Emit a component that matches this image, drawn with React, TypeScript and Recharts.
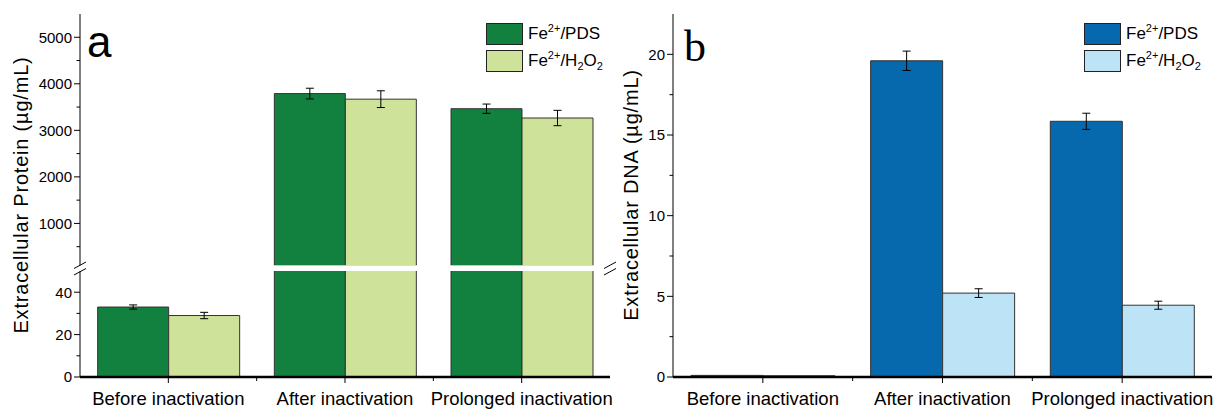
import React from 'react';
import { BarChart, Bar, XAxis, YAxis, ErrorBar, Legend } from 'recharts';

const categories = ['Before inactivation', 'After inactivation', 'Prolonged inactivation'];
const seriesNames = ['Fe2+/PDS', 'Fe2+/H2O2'];

// panel a - extracellular protein (µg/mL)
const proteinPds = [33, 3790, 3465];
const proteinPdsErr = [1, 115, 100];
const proteinH2o2 = [29, 3670, 3265];
const proteinH2o2Err = [1.5, 180, 165];

// panel b - extracellular DNA (µg/mL)
const dnaPds = [0.1, 19.6, 15.85];
const dnaPdsErr = [0, 0.6, 0.5];
const dnaH2o2 = [0.08, 5.2, 4.45];
const dnaH2o2Err = [0, 0.27, 0.25];

// broken axis of panel a
const lowDomain = [0, 50];
const highDomain = [85, 5500];
const lowTicks = [0, 10, 20, 30, 40];
const lowMajor = [0, 20, 40];
const highTicks = [500, 1000, 1500, 2000, 2500, 3000, 3500, 4000, 4500, 5000];
const highMajor = [1000, 2000, 3000, 4000, 5000];
const dnaTicks = [0, 2.5, 5, 7.5, 10, 12.5, 15, 17.5, 20];
const dnaMajor = [0, 5, 10, 15, 20];

const FONT = '"Liberation Sans", Arial, sans-serif';
const greens = ['#12803f', '#cfe29a'];
const blues = ['#0669ad', '#bde3f7'];
const BAR_STROKE = '#333';

const inRange = (v: number, d: number[]) => v >= d[0] && v <= d[1];

// rows for each segment: values outside the segment keep their bar (clipped), errors only if visible
const segmentRows = (d: number[], keepBelow: boolean) =>
  categories.map((cat, i) => ({
    cat,
    pds: keepBelow || proteinPds[i] > d[0] ? proteinPds[i] : null,
    h2o2: keepBelow || proteinH2o2[i] > d[0] ? proteinH2o2[i] : null,
    pdsErr: inRange(proteinPds[i], d) ? proteinPdsErr[i] : null,
    h2o2Err: inRange(proteinH2o2[i], d) ? proteinH2o2Err[i] : null,
  }));

const highRows = segmentRows(highDomain, false);
const lowRows = segmentRows(lowDomain, true);
const dnaRows = categories.map((cat, i) => ({
  cat,
  pds: dnaPds[i],
  h2o2: dnaH2o2[i],
  pdsErr: dnaPdsErr[i],
  h2o2Err: dnaH2o2Err[i],
}));

const formatName = (s: string) =>
  s.split(/(\d\+|\d)/).map((p, i) =>
    /\d\+/.test(p) ? (
      <sup key={i} style={{ fontSize: 11, lineHeight: 0 }}>{p}</sup>
    ) : /^\d$/.test(p) ? (
      <sub key={i} style={{ fontSize: 11, lineHeight: 0 }}>{p}</sub>
    ) : (
      p
    )
  );

const LegendBox = (props: any) => {
  const items = [...(props.payload || [])].sort(
    (a: any, b: any) => seriesNames.indexOf(a.value) - seriesNames.indexOf(b.value)
  );
  return (
    <div style={{ fontFamily: FONT, fontSize: 17, color: '#000' }}>
      {items.map((e: any) => (
        <div key={e.value} style={{ display: 'flex', alignItems: 'center', height: 27 }}>
          <span
            style={{
              width: 37,
              height: 22,
              background: e.color,
              border: '1px solid #222',
              boxSizing: 'border-box',
              display: 'inline-block',
            }}
          />
          <span style={{ marginLeft: 5, whiteSpace: 'nowrap' }}>{formatName(e.value)}</span>
        </div>
      ))}
    </div>
  );
};

const YTick = (props: any) => {
  const { x, y, payload, majors } = props;
  const major = majors.includes(payload.value);
  return (
    <g>
      <line x1={x} x2={x - (major ? 6 : 3.5)} y1={y} y2={y} stroke="#000" />
      {major && (
        <text x={x - 8} y={y} dy="0.36em" textAnchor="end" fontSize={15} fontFamily={FONT} fill="#000">
          {payload.value}
        </text>
      )}
    </g>
  );
};

const XTick = (props: any) => {
  const { x, y, payload, index, band } = props;
  return (
    <g>
      <line x1={x} x2={x} y1={y} y2={y + 6} stroke="#000" />
      {index < categories.length - 1 && (
        <line x1={x + band / 2} x2={x + band / 2} y1={y} y2={y + 4} stroke="#000" />
      )}
      <text x={x} y={y + 28} textAnchor="middle" fontSize={18.5} fontFamily={FONT} fill="#000">
        {payload.value}
      </text>
    </g>
  );
};

const frameAxes = [
  <XAxis key="top" xAxisId="top" orientation="top" dataKey="cat" height={0} tick={false} tickLine={false} axisLine={{ stroke: '#000' }} />,
  <YAxis key="right" yAxisId="r" orientation="right" width={0} tick={false} tickLine={false} axisLine={{ stroke: '#000' }} />,
];

const bars = (colors: string[]) => [
  <Bar key="pds" dataKey="pds" yAxisId="l" name={seriesNames[0]} fill={colors[0]} stroke={BAR_STROKE} strokeWidth={1} isAnimationActive={false}>
    <ErrorBar dataKey="pdsErr" width={4} stroke="#000" strokeWidth={1} direction="y" />
  </Bar>,
  <Bar key="h2o2" dataKey="h2o2" yAxisId="l" name={seriesNames[1]} fill={colors[1]} stroke={BAR_STROKE} strokeWidth={1} isAnimationActive={false}>
    <ErrorBar dataKey="h2o2Err" width={4} stroke="#000" strokeWidth={1} direction="y" />
  </Bar>,
];

const legendAt = (left: number) => (
  <Legend
    verticalAlign="middle"
    align="center"
    layout="horizontal"
    content={<LegendBox />}
    wrapperStyle={{ top: 20, left, width: 'auto', height: 'auto' }}
  />
);

const titleStyle = { fontSize: 20, letterSpacing: 0.8, fontFamily: FONT, fill: '#000' };

export default function App() {
  const bandA = (610 - 80) / 3;
  const bandB = (1212 - 673) / 3;
  return (
    <div style={{ position: 'absolute', left: 0, top: 0, width: 1214, height: 410, background: '#fff', fontFamily: FONT }}>
      {/* panel a, upper segment */}
      <div style={{ position: 'absolute', left: 0, top: 0 }}>
        <BarChart width={620} height={410} data={highRows} margin={{ top: 14, right: 10, bottom: 144, left: 0 }} barGap={0} barCategoryGap="10%">
          <XAxis dataKey="cat" hide />
          {frameAxes}
          <YAxis
            yAxisId="l"
            width={80}
            domain={highDomain}
            allowDataOverflow
            ticks={highTicks}
            interval={0}
            tickSize={0}
            tickMargin={0}
            tickLine={false}
            axisLine={{ stroke: '#000' }}
            tick={(p: any) => <YTick {...p} majors={highMajor} />}
          />
          {bars(greens)}
          {legendAt(486)}
        </BarChart>
      </div>
      {/* panel a, lower segment */}
      <div style={{ position: 'absolute', left: 0, top: 0 }}>
        <BarChart width={620} height={410} data={lowRows} margin={{ top: 271, right: 10, bottom: 0, left: 0 }} barGap={0} barCategoryGap="10%">
          <XAxis
            dataKey="cat"
            height={33}
            interval={0}
            tickSize={0}
            tickMargin={0}
            tickLine={false}
            axisLine={{ stroke: '#000', strokeWidth: 2.5 }}
            tick={(p: any) => <XTick {...p} band={bandA} />}
          />
          <YAxis yAxisId="r" orientation="right" width={0} tick={false} tickLine={false} axisLine={{ stroke: '#000' }} />
          <YAxis
            yAxisId="l"
            width={80}
            domain={lowDomain}
            allowDataOverflow
            ticks={lowTicks}
            interval={0}
            tickSize={0}
            tickMargin={0}
            tickLine={false}
            axisLine={{ stroke: '#000' }}
            tick={(p: any) => <YTick {...p} majors={lowMajor} />}
          />
          {bars(greens)}
        </BarChart>
      </div>
      {/* panel b */}
      <div style={{ position: 'absolute', left: 600, top: 0 }}>
        <BarChart width={614} height={410} data={dnaRows} margin={{ top: 14, right: 2, bottom: 0, left: 0 }} barGap={0} barCategoryGap="10%">
          <XAxis
            dataKey="cat"
            height={33}
            interval={0}
            tickSize={0}
            tickMargin={0}
            tickLine={false}
            axisLine={{ stroke: '#000', strokeWidth: 2.5 }}
            tick={(p: any) => <XTick {...p} band={bandB} />}
          />
          {frameAxes}
          <YAxis
            yAxisId="l"
            width={73}
            domain={[0, 22.5]}
            allowDataOverflow
            ticks={dnaTicks}
            interval={0}
            tickSize={0}
            tickMargin={0}
            tickLine={false}
            axisLine={{ stroke: '#000' }}
            tick={(p: any) => <YTick {...p} majors={dnaMajor} />}
          />
          {bars(blues)}
          {legendAt(484)}
        </BarChart>
      </div>
      {/* decorations: axis break, panel letters, axis titles */}
      <svg width={1214} height={410} style={{ position: 'absolute', left: 0, top: 0, pointerEvents: 'none' }}>
        <rect x={74} y={265.3} width={542} height={5.7} fill="#fff" />
        {[80, 610].map((x) => (
          <g key={x} stroke="#000" strokeWidth={1}>
            <line x1={x - 6} y1={268.5} x2={x + 6} y2={262} />
            <line x1={x - 6} y1={275} x2={x + 6} y2={268.5} />
          </g>
        ))}
        <text x={87} y={57} fontSize={44} fontFamily={FONT} fill="#000">a</text>
        <text x={684} y={61} fontSize={44} fontFamily='"Liberation Serif", "Times New Roman", serif' fill="#000">b</text>
        <text transform="translate(28,195) rotate(-90)" textAnchor="middle" style={titleStyle}>
          Extracellular Protein (µg/mL)
        </text>
        <text transform="translate(638,195) rotate(-90)" textAnchor="middle" style={titleStyle}>
          Extracellular DNA (µg/mL)
        </text>
      </svg>
    </div>
  );
}
